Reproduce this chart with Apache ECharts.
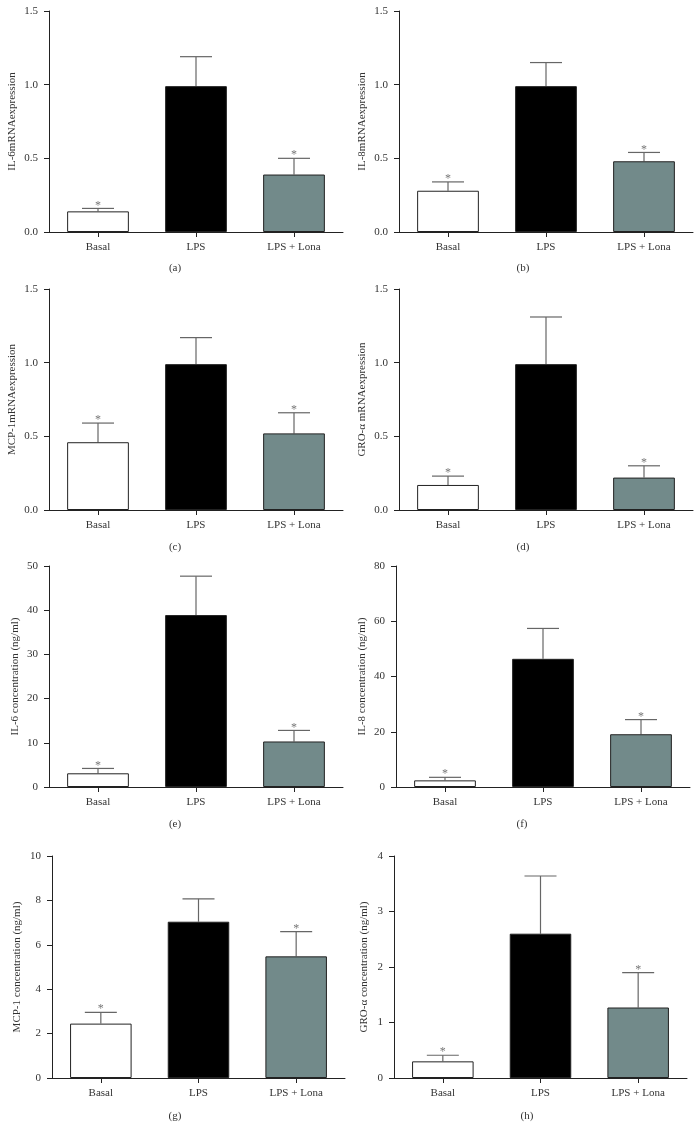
<!DOCTYPE html>
<html>
<head>
<meta charset="utf-8">
<script src="https://cdn.jsdelivr.net/npm/echarts@6/dist/echarts.min.js"></script>
<style>
html,body{margin:0;padding:0;background:#fff;}
#chart{width:700px;height:1136px;}
</style>
</head>
<body>
<div id="chart"></div>
<script>
// ---- Data ----
const categories = ['Basal', 'LPS', 'LPS + Lona'];
const barColors = ['#ffffff', '#000000', '#728a8a'];
const significant = [true, false, true];

const panelLetters = ['(a)', '(b)', '(c)', '(d)', '(e)', '(f)', '(g)', '(h)'];
const yTitles = [
  'IL-6mRNAexpression',
  'IL-8mRNAexpression',
  'MCP-1mRNAexpression',
  'GRO-\u03b1 mRNAexpression',
  'IL-6 concentration (ng/ml)',
  'IL-8 concentration (ng/ml)',
  'MCP-1 concentration (ng/ml)',
  'GRO-\u03b1 concentration (ng/ml)'
];
const yMax = [1.5, 1.5, 1.5, 1.5, 50, 80, 10, 4];
const yInterval = [0.5, 0.5, 0.5, 0.5, 10, 20, 2, 1];
const yDecimals = [1, 1, 1, 1, 0, 0, 0, 0];

const meanA = [0.14, 0.99, 0.39];  const semA = [0.02, 0.20, 0.11];
const meanB = [0.28, 0.99, 0.48];  const semB = [0.06, 0.16, 0.06];
const meanC = [0.46, 0.99, 0.52];  const semC = [0.13, 0.18, 0.14];
const meanD = [0.17, 0.99, 0.22];  const semD = [0.06, 0.32, 0.08];
const meanE = [3.1, 38.9, 10.3];   const semE = [1.1, 8.8, 2.5];
const meanF = [2.4, 46.4, 19.1];   const semF = [1.1, 11.0, 5.3];
const meanG = [2.45, 7.04, 5.48];  const semG = [0.51, 1.03, 1.11];
const meanH = [0.30, 2.60, 1.27];  const semH = [0.11, 1.04, 0.63];

const means = [meanA, meanB, meanC, meanD, meanE, meanF, meanG, meanH];
const sems = [semA, semB, semC, semD, semE, semF, semG, semH];

// ---- Layout ----
const grids = [
  {left: 49,  top: 11,  width: 294, height: 221},
  {left: 399, top: 11,  width: 294, height: 221},
  {left: 49,  top: 289, width: 294, height: 221},
  {left: 399, top: 289, width: 294, height: 221},
  {left: 49,  top: 566, width: 294, height: 221},
  {left: 396, top: 566, width: 294, height: 221},
  {left: 52,  top: 856, width: 293, height: 222},
  {left: 394, top: 856, width: 293, height: 222}
];
const nameGaps = [31, 31, 31, 31, 28, 28, 29, 24];
const letterPos = [[175, 268], [523, 268], [175, 547], [523, 547], [175, 824], [522, 824], [175, 1116], [527, 1116]];

const FONT = '"Liberation Serif", "DejaVu Serif", serif';
const TXT = '#333333';
const AX = '#222222';

const xAxes = [], yAxes = [], series = [], graphics = [];
for (let i = 0; i < 8; i++) {
  xAxes.push({
    type: 'category', gridIndex: i, data: categories,
    axisLine: {lineStyle: {color: AX, width: 1}},
    axisTick: {show: true, alignWithLabel: true, length: 5, lineStyle: {color: AX}},
    axisLabel: {color: TXT, fontFamily: FONT, fontSize: 11, margin: 10}
  });
  const dec = yDecimals[i];
  yAxes.push({
    type: 'value', gridIndex: i, min: 0, max: yMax[i], interval: yInterval[i],
    name: yTitles[i], nameLocation: 'middle', nameGap: nameGaps[i],
    nameTextStyle: {color: TXT, fontFamily: FONT, fontSize: 11},
    axisLine: {show: true, lineStyle: {color: AX, width: 1}},
    axisTick: {show: true, length: 5, lineStyle: {color: AX}},
    splitLine: {show: false},
    axisLabel: {color: TXT, fontFamily: FONT, fontSize: 11, margin: 11,
      formatter: v => v.toFixed(dec)}
  });
  series.push({
    type: 'bar', xAxisIndex: i, yAxisIndex: i, barCategoryGap: '37%',
    data: means[i].map((v, k) => ({value: v, itemStyle: {color: barColors[k]}})),
    itemStyle: {borderColor: AX, borderWidth: 1},
    silent: true, animation: false
  });
  const errData = means[i].map((v, k) => [k, v, v + sems[i][k], significant[k] ? 1 : 0]);
  series.push({
    type: 'custom', xAxisIndex: i, yAxisIndex: i, data: errData, silent: true, animation: false, z: 1,
    renderItem: function (params, api) {
      const x = api.value(0);
      const p0 = api.coord([x, api.value(1)]);
      const p1 = api.coord([x, api.value(2)]);
      const capHalf = 16;
      const children = [
        {type: 'line', shape: {x1: p0[0], y1: p0[1], x2: p1[0], y2: p1[1]}, style: {stroke: '#666', lineWidth: 1.2}},
        {type: 'line', shape: {x1: p1[0] - capHalf, y1: p1[1], x2: p1[0] + capHalf, y2: p1[1]}, style: {stroke: '#666', lineWidth: 1.2}}
      ];
      if (api.value(3) === 1) {
        children.push({type: 'text', style: {text: '*', x: p1[0], y: p1[1] - 3, textAlign: 'center', textVerticalAlign: 'middle',
          fill: '#777', font: '12px ' + FONT}});
      }
      return {type: 'group', children: children};
    }
  });
  graphics.push({
    type: 'text', left: letterPos[i][0], top: letterPos[i][1],
    style: {text: panelLetters[i], fill: TXT, font: '11px ' + FONT, textAlign: 'center', textVerticalAlign: 'middle', x: letterPos[i][0], y: letterPos[i][1]}
  });
}

const chart = echarts.init(document.getElementById('chart'), null, {renderer: 'canvas'});
chart.setOption({
  backgroundColor: '#ffffff',
  animation: false,
  grid: grids,
  xAxis: xAxes,
  yAxis: yAxes,
  series: series,
  graphic: {elements: graphics.map(g => ({type: 'text', x: g.style.x, y: g.style.y,
    style: {text: g.style.text, fill: g.style.fill, font: g.style.font, textAlign: 'center', textVerticalAlign: 'middle'}}))}
});
</script>
</body>
</html>
